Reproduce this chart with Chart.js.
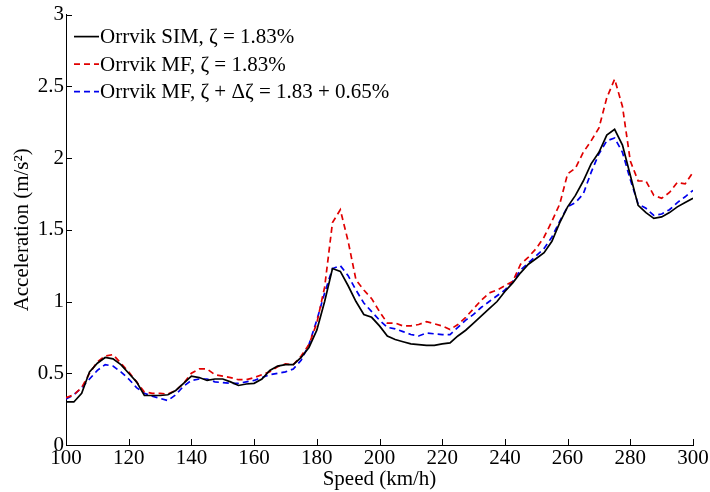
<!DOCTYPE html>
<html>
<head>
<meta charset="utf-8">
<script src="https://cdn.jsdelivr.net/npm/chart.js@4.4.1/dist/chart.umd.min.js"></script>
<style>
  html, body { margin: 0; padding: 0; background: #fff; }
  #wrap { width: 710px; height: 492px; }
</style>
</head>
<body>
<div id="wrap"><canvas id="accChart" width="710" height="492"></canvas></div>
<script>
// Speed (km/h)
const speeds = [
  100, 102.5, 105, 107.5, 110, 112.5, 115, 117.5, 120, 122.5,
  125, 127.5, 130, 132.5, 135, 137.5, 140, 142.5, 145, 147.5,
  150, 152.5, 155, 157.5, 160, 162.5, 165, 167.5, 170, 172.5,
  175, 177.5, 180, 182.5, 185, 187.5, 190, 192.5, 195, 197.5,
  200, 202.5, 205, 207.5, 210, 212.5, 215, 217.5, 220, 222.5,
  225, 227.5, 230, 232.5, 235, 237.5, 240, 242.5, 245, 247.5,
  250, 252.5, 255, 257.5, 260, 262.5, 265, 267.5, 270, 272.5,
  275, 277.5, 280, 282.5, 285, 287.5, 290, 292.5, 295, 297.5,
  300
];

// Acceleration (m/s^2), simulation
const simAcc = [
  0.30, 0.30, 0.36, 0.51, 0.57, 0.61, 0.60, 0.56, 0.50, 0.44,
  0.345, 0.345, 0.345, 0.35, 0.38, 0.43, 0.48, 0.47, 0.45, 0.46,
  0.46, 0.44, 0.415, 0.425, 0.43, 0.46, 0.52, 0.55, 0.56, 0.56,
  0.61, 0.68, 0.80, 1.00, 1.23, 1.21, 1.11, 1.00, 0.91, 0.89,
  0.83, 0.76, 0.735, 0.72, 0.705, 0.70, 0.695, 0.694, 0.705, 0.712,
  0.76, 0.80, 0.85, 0.90, 0.95, 1.00, 1.07, 1.13, 1.20, 1.26,
  1.30, 1.34, 1.42, 1.55, 1.66, 1.74, 1.84, 1.96, 2.04, 2.16,
  2.20, 2.09, 1.88, 1.67, 1.62, 1.58, 1.59, 1.62, 1.66, 1.69,
  1.72
];

// Acceleration (m/s^2), MF with zeta
const mfAcc = [
  0.33, 0.35, 0.40, 0.50, 0.58, 0.62, 0.63, 0.57, 0.51, 0.44,
  0.37, 0.36, 0.36, 0.355, 0.38, 0.43, 0.50, 0.53, 0.53, 0.49,
  0.48, 0.47, 0.455, 0.455, 0.47, 0.49, 0.51, 0.545, 0.565, 0.56,
  0.62, 0.70, 0.85, 1.10, 1.55, 1.64, 1.42, 1.15, 1.08, 1.02,
  0.93, 0.85, 0.85, 0.83, 0.83, 0.84, 0.86, 0.845, 0.83, 0.805,
  0.84, 0.89, 0.95, 1.01, 1.06, 1.08, 1.11, 1.14, 1.26, 1.31,
  1.37, 1.45, 1.56, 1.68, 1.89, 1.93, 2.04, 2.12, 2.21, 2.42,
  2.55, 2.36, 1.98, 1.84, 1.84, 1.74, 1.72, 1.76, 1.83, 1.82,
  1.90
];

// Acceleration (m/s^2), MF with zeta + delta zeta
const mfDeltaAcc = [
  0.32, 0.35, 0.40, 0.46, 0.52, 0.56, 0.55, 0.51, 0.46, 0.40,
  0.36, 0.34, 0.325, 0.31, 0.35, 0.41, 0.45, 0.46, 0.46, 0.44,
  0.435, 0.43, 0.43, 0.44, 0.45, 0.47, 0.49, 0.50, 0.51, 0.53,
  0.59, 0.70, 0.87, 1.06, 1.23, 1.25, 1.18, 1.08, 0.99, 0.93,
  0.87, 0.82, 0.81, 0.79, 0.77, 0.76, 0.78, 0.775, 0.77, 0.77,
  0.82, 0.87, 0.91, 0.96, 1.00, 1.04, 1.08, 1.14, 1.22, 1.27,
  1.32, 1.37, 1.45, 1.56, 1.66, 1.69, 1.75, 1.90, 2.03, 2.12,
  2.14, 2.04, 1.85, 1.68, 1.65, 1.60, 1.61, 1.64, 1.69, 1.73,
  1.775
];

const seriesLabels = [
  'Orrvik SIM, ζ = 1.83%',
  'Orrvik MF, ζ = 1.83%',
  'Orrvik MF, ζ + Δζ = 1.83 + 0.65%'
];

const serif = '"Liberation Serif", "DejaVu Serif", serif';
const fontSize = 21;

function toPoints(values) {
  return speeds.map((s, i) => ({ x: s, y: values[i] }));
}

// inward tick marks, like the original plotting tool
const inwardTicks = {
  id: 'inwardTicks',
  afterDraw(chart) {
    const { ctx, chartArea, scales } = chart;
    ctx.save();
    ctx.strokeStyle = '#000';
    ctx.lineWidth = 1;
    ctx.beginPath();
    scales.x.ticks.forEach(t => {
      const px = Math.round(scales.x.getPixelForValue(t.value)) + 0.5;
      ctx.moveTo(px, chartArea.bottom);
      ctx.lineTo(px, chartArea.bottom - 6);
    });
    scales.y.ticks.forEach(t => {
      const py = Math.round(scales.y.getPixelForValue(t.value)) + 0.5;
      ctx.moveTo(chartArea.left, py);
      ctx.lineTo(chartArea.left + 6, py);
    });
    ctx.stroke();
    ctx.restore();
  }
};

// legend box inside the axes, top left
const innerLegend = {
  id: 'innerLegend',
  afterDraw(chart) {
    const { ctx, chartArea } = chart;
    ctx.save();
    ctx.font = fontSize + 'px ' + serif;
    ctx.textBaseline = 'middle';
    ctx.fillStyle = '#000';
    chart.data.datasets.forEach((ds, i) => {
      const y = chartArea.top + 22 + i * 27.5;
      const x0 = chartArea.left + 8;
      ctx.strokeStyle = ds.borderColor;
      ctx.lineWidth = ds.borderWidth;
      ctx.setLineDash(ds.borderDash || []);
      ctx.beginPath();
      ctx.moveTo(x0, y);
      ctx.lineTo(x0 + 25, y);
      ctx.stroke();
      ctx.setLineDash([]);
      ctx.fillText(ds.label, x0 + 26, y + 1);
    });
    ctx.restore();
  }
};

new Chart(document.getElementById('accChart'), {
  type: 'line',
  data: {
    datasets: [
      {
        label: seriesLabels[0],
        data: toPoints(simAcc),
        borderColor: '#000000',
        borderWidth: 1.7,
        pointRadius: 0
      },
      {
        label: seriesLabels[1],
        data: toPoints(mfAcc),
        borderColor: '#e00000',
        borderWidth: 1.7,
        borderDash: [6, 4],
        pointRadius: 0
      },
      {
        label: seriesLabels[2],
        data: toPoints(mfDeltaAcc),
        borderColor: '#0000ee',
        borderWidth: 1.7,
        borderDash: [6, 4],
        pointRadius: 0
      }
    ]
  },
  options: {
    responsive: false,
    animation: false,
    layout: { padding: { top: 11, right: 17, left: 0, bottom: 0 } },
    plugins: {
      legend: { display: false },
      tooltip: { enabled: false }
    },
    scales: {
      x: {
        type: 'linear',
        min: 100,
        max: 300,
        ticks: {
          stepSize: 20,
          color: '#000',
          padding: 1,
          maxRotation: 0,
          font: { family: serif, size: fontSize }
        },
        grid: { display: false, drawTicks: false },
        border: { display: true, color: '#000', width: 1 },
        title: {
          display: true,
          text: 'Speed (km/h)',
          color: '#000',
          padding: { top: -6, bottom: 0 },
          font: { family: serif, size: fontSize }
        },
        afterFit(scale) { scale.height = 47; }
      },
      y: {
        min: 0,
        max: 3,
        ticks: {
          stepSize: 0.5,
          color: '#000',
          padding: 2,
          font: { family: serif, size: fontSize },
          callback: v => String(v)
        },
        grid: { display: false, drawTicks: false },
        border: { display: true, color: '#000', width: 1 },
        title: {
          display: true,
          text: 'Acceleration (m/s²)',
          color: '#000',
          padding: { top: 10, bottom: 0 },
          font: { family: serif, size: fontSize }
        },
        afterFit(scale) { scale.width = 66; }
      }
    }
  },
  plugins: [inwardTicks, innerLegend]
});
</script>
</body>
</html>
